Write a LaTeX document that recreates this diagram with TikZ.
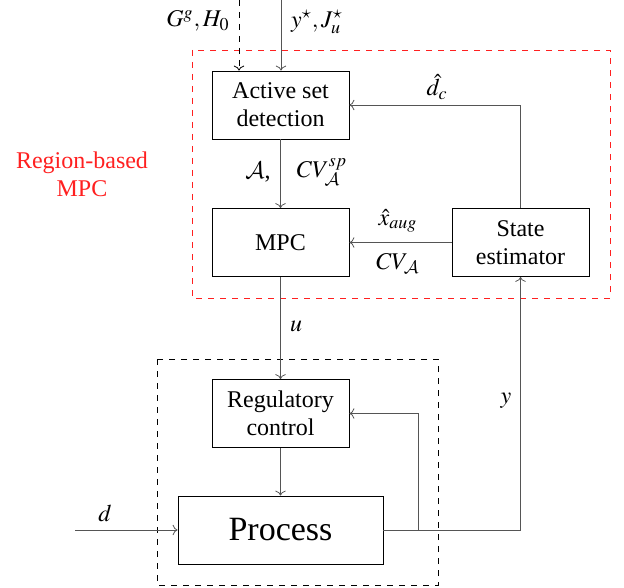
\documentclass[tikz,border=0pt]{standalone}
\usepackage{amsmath}
\usepackage{mathptmx}
\usepackage[no-math]{fontspec}
\setmainfont{Liberation Serif}
\DeclareMathAlphabet{\mathcal}{OMS}{cmsy}{m}{n}
\usepackage{xcolor}
\usetikzlibrary{arrows.meta,calc,positioning}
\definecolor{wire}{HTML}{555555}
\definecolor{region}{HTML}{FF2020}

\tikzset{
  block/.style={draw,minimum width=68.5pt,minimum height=34pt,align=center,font=\fontsize{12}{14}\selectfont},
  bigblock/.style={block,minimum width=102.5pt,font=\fontsize{17}{20}\selectfont},
  wire/.style={draw=wire,->},
  lbl/.style={font=\fontsize{12}{14}\selectfont,inner sep=0pt}
}

\begin{document}
\begin{tikzpicture}[x=0.5pt,y=-0.5pt]
\useasboundingbox (0,0) rectangle (624,587);
% frames
\draw[region,dashed] (192,50) rectangle (610,298);
\draw[dashed] (157,359) rectangle (438,585);
\node[lbl,text=region,align=center] (rlab) at (82,174) {Region-based\\MPC};
% blocks
\node[block] (act) at (280.5,105) {Active set\\detection};
\node[block] (mpc) at (280.5,242.5) {MPC};
\node[block] (est) at (520.5,242.5) {State\\estimator};
\node[block] (reg) at (280.5,413.5) {Regulatory\\control};
\node[bigblock] (proc) at (280.5,530) {Process};
% free ends
\coordinate (gin) at (239,0);
\coordinate (yin) at (281,0);
\coordinate (din) at (75,530);
\coordinate (ybr) at (418,530);
% connectors
\draw[wire,dashed,draw=black] (gin) -- (act.north -| gin);
\draw[wire] (yin) -- (act.north -| yin);
\draw[wire] (act) -- (mpc);
\draw[wire] (est.north) |- (act.east);
\draw[wire] (est.west) -- (mpc.east);
\draw[wire] (mpc) -- (reg);
\draw[wire] (reg) -- (proc);
\draw[wire] (din) -- (proc.west);
\draw[wire] (proc.east) -| (est.south);
\draw[wire] (ybr) |- (reg.east);
% labels
\node[lbl] (lg) at (198,21) {$G^g, H_0$};
\node[lbl] (ly) at (317,22) {$y^\star, J_u^\star$};
\node[lbl] (ldc) at (437,87) {$\hat{d}_c$};
\node[lbl] (la) at (258,172) {$\mathcal{A}$,};
\node[lbl] (lcvsp) at (322,172) {$CV_{\mathcal{A}}^{sp}$};
\node[lbl] (lx) at (398,221) {$\hat{x}_{aug}$};
\node[lbl] (lcv) at (398,263) {$CV_{\mathcal{A}}$};
\node[lbl] (lu) at (296,326) {$u$};
\node[lbl] (lyy) at (506,401) {$y$};
\node[lbl] (ld) at (105,513) {$d$};
\end{tikzpicture}
\end{document}
